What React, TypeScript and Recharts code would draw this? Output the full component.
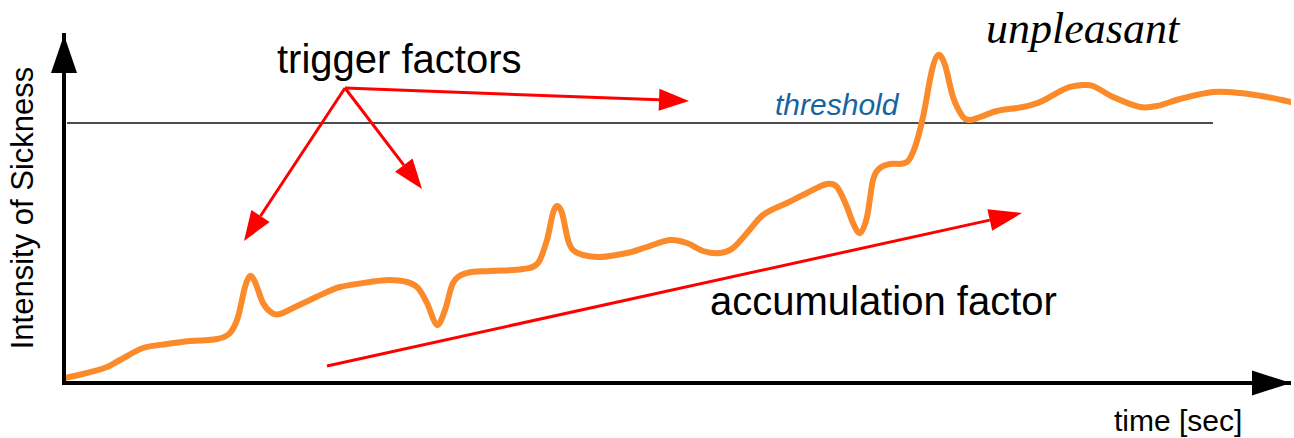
import React from 'react';
import {
  ComposedChart,
  Line,
  XAxis,
  YAxis,
  ReferenceLine,
  ReferenceDot
} from 'recharts';

// time axis (arbitrary units) and intensity of sickness
const times = [
  0, 19, 43, 56, 79, 103, 126, 153, 166, 174, 181, 186, 191, 199, 208, 216,
  229, 246, 263, 276, 306, 325, 343, 354, 363, 373, 381, 389, 403, 426, 459, 474,
  483, 489, 493, 498, 504, 509, 519, 536, 563, 583, 606, 623, 639, 656, 669,
  683, 699, 723, 743, 763, 773, 783, 789, 796, 803, 809, 816, 826, 843, 851,
  859, 868, 874, 881, 889, 899, 906, 916, 933, 959, 976, 1003, 1019, 1029,
  1049, 1076, 1093, 1116, 1149, 1176, 1203, 1227
];
const intensity = [
  5, 9, 16, 23, 35, 39, 42, 44, 50, 66, 96, 107, 101, 80, 70, 69,
  75, 83, 91, 96, 101, 103, 101, 95, 80, 58, 73, 100, 110, 112, 114, 120,
  143, 170, 177, 170, 143, 133, 128, 126, 130, 136, 143, 140, 132, 130, 135,
  150, 168, 180, 190, 199, 196, 176, 160, 150, 166, 203, 215, 219, 221, 236,
  266, 313, 328, 318, 286, 266, 263, 266, 272, 276, 281, 295, 298, 297,
  286, 276, 277, 284, 291, 290, 286, 281
];

const threshold = 260;
const thresholdSpan = [3, 1149];

// red arrows: [fromT, fromV, toT, toV]
const triggerArrows = [
  [281, 295, 625, 282],
  [281, 295, 180, 142],
  [281, 295, 358, 194]
];
const accumulationArrow = [263, 17, 958, 170];

const data = times.map((t, i) => ({ t, v: intensity[i] }));

// smooth hermite curve through the points (slopes from neighbours), hand drawn look
const smoothCurve = (context: any) => {
  let pts: number[][] = [];
  return {
    areaStart() {},
    areaEnd() {},
    lineStart() { pts = []; },
    point(x: number, y: number) { pts.push([+x, +y]); },
    lineEnd() {
      const n = pts.length;
      if (!n) return;
      const slope = (i: number) => {
        const a = pts[Math.max(0, i - 1)];
        const b = pts[Math.min(n - 1, i + 1)];
        return (b[1] - a[1]) / (b[0] - a[0] || 1);
      };
      context.moveTo(pts[0][0], pts[0][1]);
      for (let i = 0; i < n - 1; i++) {
        const p1 = pts[i];
        const p2 = pts[i + 1];
        const h = (p2[0] - p1[0]) / 3;
        const m1 = slope(i);
        const m2 = slope(i + 1);
        context.bezierCurveTo(p1[0] + h, p1[1] + m1 * h, p2[0] - h, p2[1] - m2 * h, p2[0], p2[1]);
      }
    }
  };
};

const arrowShape = (head: number, width: number, color: string, sw: number, showLine = true) => (props: any) => {
  const { x1, y1, x2, y2 } = props;
  const dx = x2 - x1;
  const dy = y2 - y1;
  const len = Math.hypot(dx, dy) || 1;
  const ux = dx / len;
  const uy = dy / len;
  const bx = x2 - ux * head;
  const by = y2 - uy * head;
  const px = (-uy * width) / 2;
  const py = (ux * width) / 2;
  return (
    <g>
      {showLine && <line x1={x1} y1={y1} x2={bx} y2={by} stroke={color} strokeWidth={sw} />}
      <polygon points={`${x2},${y2} ${bx + px},${by + py} ${bx - px},${by - py}`} fill={color} />
    </g>
  );
};

const textShape = (text: string, style: any, rotate = 0) => (props: any) => {
  const { cx, cy } = props;
  return (
    <text
      x={cx}
      y={cy}
      transform={rotate ? `rotate(${rotate} ${cx} ${cy})` : undefined}
      {...style}
    >
      {text}
    </text>
  );
};

const sans = 'Liberation Sans, Arial, sans-serif';

const App = () => {
  return (
    <div style={{ position: 'absolute', left: 0, top: 0, background: '#fff' }}>
      <ComposedChart width={1294} height={438} data={data}
        margin={{ top: 35, right: 3, bottom: 0, left: 0 }}>
        <XAxis type="number" dataKey="t" domain={[0, 1227]} allowDataOverflow height={55}
          tick={false} tickLine={false} axisLine={{ stroke: '#000', strokeWidth: 4 }} />
        <YAxis type="number" domain={[0, 348]} allowDataOverflow width={64}
          tick={false} tickLine={false}
          axisLine={{ stroke: '#000', strokeWidth: 4, strokeLinecap: 'square' }} />

        <ReferenceLine ifOverflow="visible" segment={[{ x: 0, y: 300 }, { x: 0, y: 348 }]}
          shape={arrowShape(38, 26, '#000', 4, false)} />
        <ReferenceLine ifOverflow="visible" segment={[{ x: 1150, y: 0 }, { x: 1227, y: 0 }]}
          shape={arrowShape(39, 25, '#000', 4, false)} />

        <ReferenceLine ifOverflow="visible"
          segment={[{ x: thresholdSpan[0], y: threshold }, { x: thresholdSpan[1], y: threshold }]}
          stroke="#111" strokeWidth={1.5} />

        {triggerArrows.map((a, i) => (
          <ReferenceLine key={i} ifOverflow="visible"
            segment={[{ x: a[0], y: a[1] }, { x: a[2], y: a[3] }]}
            shape={arrowShape(30, 22, '#ff0000', 3)} />
        ))}
        <ReferenceLine ifOverflow="visible"
          segment={[{ x: accumulationArrow[0], y: accumulationArrow[1] }, { x: accumulationArrow[2], y: accumulationArrow[3] }]}
          shape={arrowShape(33, 22, '#ff0000', 3)} />

        <Line type={smoothCurve as any} dataKey="v" stroke="#fb8a2a" strokeWidth={6}
          strokeLinecap="round" strokeLinejoin="round" dot={false} activeDot={false}
          isAnimationActive={false} />

        <ReferenceDot ifOverflow="visible" x={213} y={310}
          shape={textShape('trigger factors', { fontFamily: sans, fontSize: 40, fill: '#000' })} />
        <ReferenceDot ifOverflow="visible" x={646} y={68}
          shape={textShape('accumulation factor', { fontFamily: sans, fontSize: 40, fill: '#000' })} />
        <ReferenceDot ifOverflow="visible" x={711} y={268}
          shape={textShape('threshold', { fontFamily: sans, fontSize: 30, fontStyle: 'italic', fill: '#17659e' })} />
        <ReferenceDot ifOverflow="visible" x={922} y={340}
          shape={textShape('unpleasant', { fontFamily: 'Liberation Serif, Times New Roman, serif', fontSize: 44, fontStyle: 'italic', fill: '#000' })} />
        <ReferenceDot ifOverflow="visible" x={1050} y={-48}
          shape={textShape('time [sec]', { fontFamily: sans, fontSize: 30, fill: '#000' })} />
        <ReferenceDot ifOverflow="visible" x={-31} y={175}
          shape={textShape('Intensity of Sickness', { fontFamily: sans, fontSize: 31, fill: '#000', textAnchor: 'middle' }, -90)} />
      </ComposedChart>
    </div>
  );
};

export default App;
